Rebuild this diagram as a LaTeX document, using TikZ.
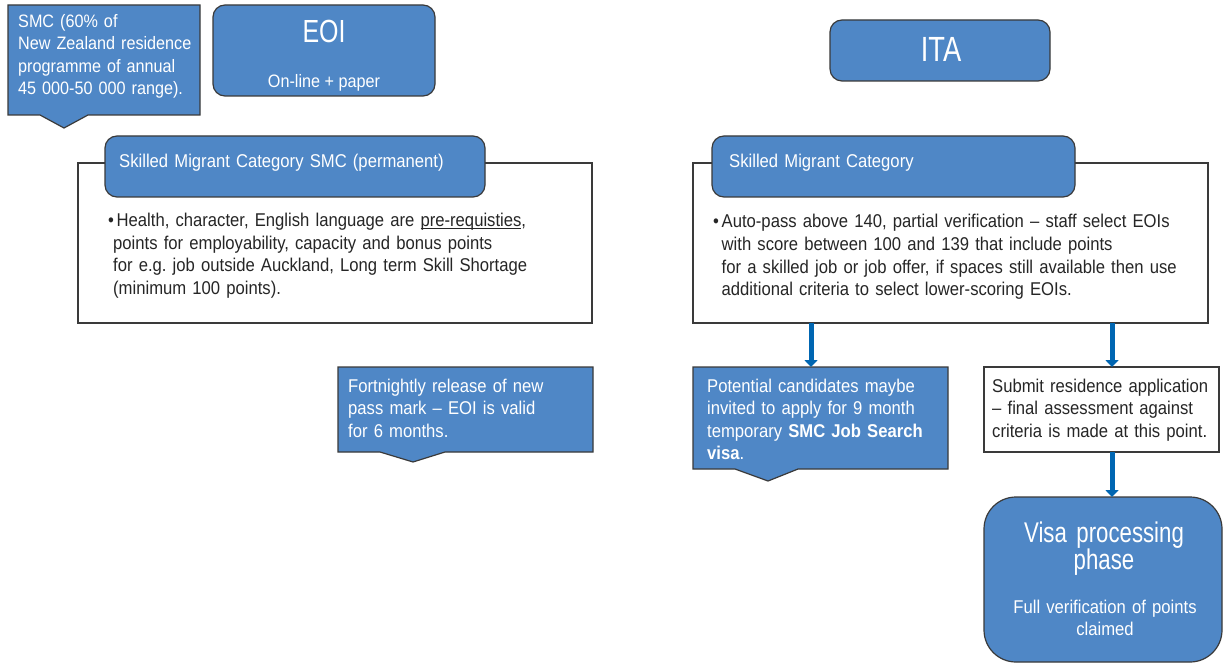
\documentclass[tikz,border=0pt]{standalone}
\usepackage{fontspec}
\setmainfont{Liberation Sans}[FakeStretch=0.9]
\newfontfamily\condfont{Liberation Sans}[FakeStretch=0.78]
\usetikzlibrary{arrows.meta}
\definecolor{boxblue}{RGB}{79,135,198}
\definecolor{edgegray}{RGB}{58,58,58}
\definecolor{arrowblue}{RGB}{0,102,178}
\definecolor{inkdark}{RGB}{38,38,38}
\newcommand\bodyfont{\fontsize{18.5}{22.5}\selectfont}
\newcommand\lowline[1]{\setbox0\hbox{#1}\rlap{\rule[-2.5pt]{\wd0}{0.9pt}}\box0}
\newcommand\itemdot{\makebox[8.5pt][l]{\textbullet}}
\frenchspacing

\begin{document}
\begin{tikzpicture}[x=1pt,y=-1pt,
  shapeline/.style={draw=edgegray, line width=1.2pt},
  bluepanel/.style={shapeline, fill=boxblue},
  whitepanel/.style={shapeline, fill=white},
  panel/.style={inner sep=0pt, outer sep=0pt, anchor=north west},
  roundpanel/.style={panel, bluepanel, rounded corners=12pt},
  textblock/.style={inner sep=0pt, anchor=base west, text width=#1, align=left, font=\bodyfont},
  textblock/.default=360pt,
  lighttext/.style={text=white},
  darktext/.style={text=inkdark},
  flow/.style={draw=arrowblue, line width=5pt, -{Triangle[width=13pt,length=7pt]}}]

\useasboundingbox[fill=white] (0,0) rectangle (1223,663);

% ---------- left column ----------
% SMC callout
\path[bluepanel] (8,5) -- (200,5) -- (200,115) -- (88,115) -- (64,128) -- (40,115) -- (8,115) -- cycle;
\node[textblock=190pt, lighttext, font=\fontsize{18}{22.5}\selectfont] (smctext) at (18,27.5)
  {SMC (60\% of\\New Zealand residence\\programme of annual\\45 000-50 000 range).};

% EOI box
\node[roundpanel, minimum width=222pt, minimum height=91pt] (eoi) at (213,5) {};
\node[inner sep=0pt, anchor=base, text=white, font=\condfont\fontsize{32}{36}\selectfont] (eoititle) at (324,43) {EOI};
\node[inner sep=0pt, anchor=base, text=white, font=\fontsize{18}{20}\selectfont] (eoisub) at (324,88) {On-line + paper};

% SMC (permanent) panel
\node[panel, whitepanel, minimum width=514pt, minimum height=160pt] (lbox) at (78,163) {};
\node[roundpanel, minimum width=380pt, minimum height=61pt] (lhead) at (105,136) {};
\node[textblock, lighttext] (lheadtext) at (119,168) {Skilled Migrant Category SMC (permanent)};
\node[textblock=470pt, darktext] (ltext) at (108,226.5)
  {\itemdot Health, character, English language are \lowline{pre-requisties},\\
   \hspace*{5pt}points for employability, capacity and bonus points\\
   \hspace*{5pt}for e.g. job outside Auckland, Long term Skill Shortage\\
   \hspace*{5pt}(minimum 100 points).};

% Fortnightly callout
\path[bluepanel] (338,367) -- (593,367) -- (593,452) -- (445,452) -- (413,462) -- (380,452) -- (338,452) -- cycle;
\node[textblock=240pt, lighttext] (fortnight) at (348,392)
  {Fortnightly release of new\\pass mark -- EOI is valid\\for 6 months.};

% ---------- right column ----------
% ITA box
\node[roundpanel, minimum width=220pt, minimum height=61pt] (ita) at (830,20) {};
\node[inner sep=0pt, anchor=base, text=white, font=\condfont\fontsize{35}{40}\selectfont] (itatitle) at (941,62) {ITA};

% Skilled Migrant Category panel
\node[panel, whitepanel, minimum width=515pt, minimum height=160pt] (rbox) at (693,163) {};
\node[roundpanel, minimum width=363pt, minimum height=61pt] (rhead) at (712,136) {};
\node[textblock, lighttext] (rheadtext) at (729,168) {Skilled Migrant Category};
\node[textblock=490pt, darktext] (rtext) at (713,228)
  {\itemdot Auto-pass above 140, partial verification -- staff select EOIs\\
   \hspace*{8.5pt}with score between 100 and 139 that include points\\
   \hspace*{8.5pt}for a skilled job or job offer, if spaces still available then use\\
   \hspace*{8.5pt}additional criteria to select lower-scoring EOIs.};

% Job search callout
\path[bluepanel] (693,367) -- (948,367) -- (948,469) -- (798,469) -- (768,481) -- (735,469) -- (693,469) -- cycle;
\coordinate (jobtop) at (811,367);
\node[textblock=240pt, lighttext] (jobtext) at (707,392)
  {Potential candidates maybe\\invited to apply for 9 month\\temporary \textbf{SMC Job Search}\\\textbf{visa}.};

% Residence application box
\node[panel, whitepanel, minimum width=235pt, minimum height=85pt] (submit) at (984,367) {};
\node[textblock=230pt, darktext] (submittext) at (992,392)
  {Submit residence application\\-- final assessment against\\criteria is made at this point.};

% Visa processing box
\node[panel, bluepanel, rounded corners=32pt, minimum width=238pt, minimum height=165pt] (visa) at (984,497) {};
\node[inner sep=0pt, anchor=base, text width=230pt, align=center, text=white,
      font=\condfont\fontsize{28.5}{25}\selectfont] (visatitle) at (1104,542) {Visa processing\\phase};
\node[inner sep=0pt, anchor=base, text width=230pt, align=center, text=white,
      font=\bodyfont] (visasub) at (1105,613) {Full verification of points\\claimed};

% ---------- connectors ----------
\coordinate (subin) at ([xshift=10.5pt]submit.north);
\coordinate (subout) at ([xshift=10.5pt]submit.south);
\draw[flow] (jobtop |- rbox.south) -- (jobtop);
\draw[flow] (subin |- rbox.south) -- (subin);
\draw[flow] (subout) -- (subout |- visa.north);
\end{tikzpicture}
\end{document}
